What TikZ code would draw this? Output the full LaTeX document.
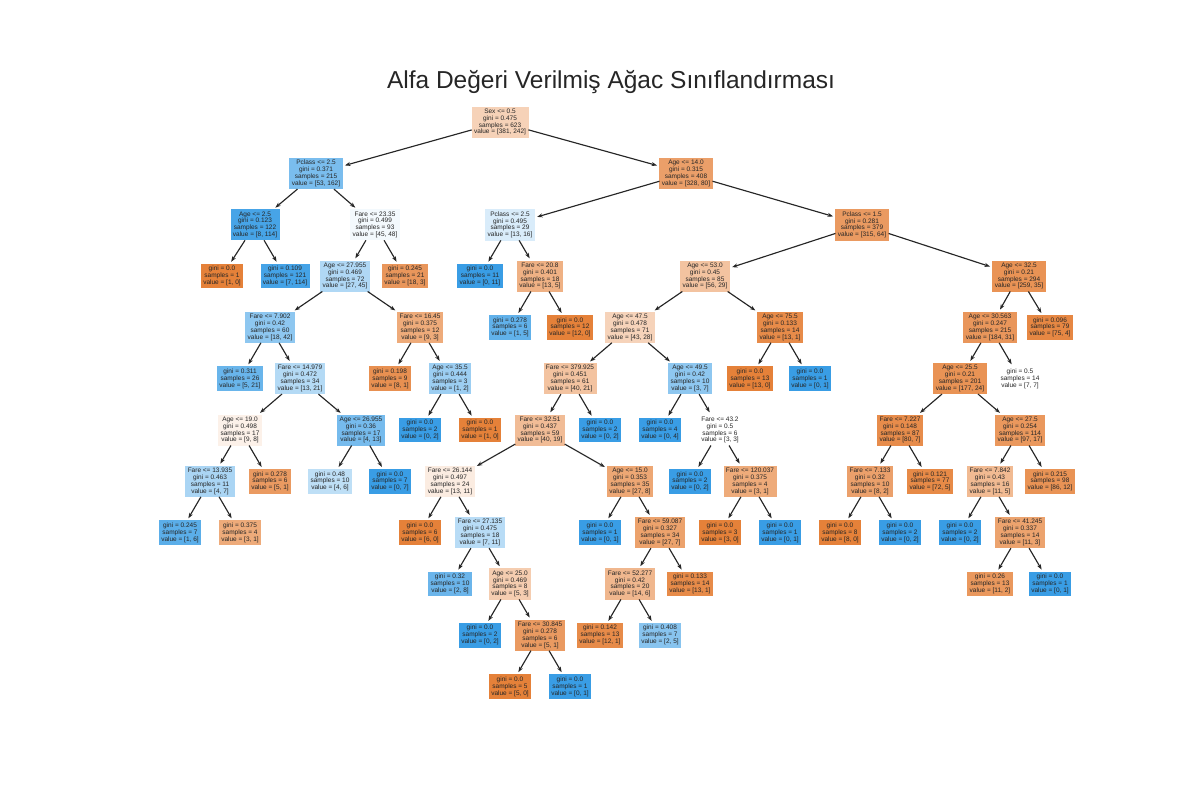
\documentclass[tikz,border=0pt]{standalone}
\usepackage{fontspec}
\setmainfont{Liberation Sans}
\usetikzlibrary{arrows.meta}
\definecolor{org}{RGB}{229,129,57}
\definecolor{blu}{RGB}{57,157,229}
\definecolor{yazi}{RGB}{38,38,38}

\begin{document}
\begin{tikzpicture}[x=1pt, y=-1pt, >={Stealth[length=5.5pt,width=4pt]},
    dug/.style={rectangle, align=center, inner xsep=2pt, inner ysep=1.8pt, line width=0.8pt, text=yazi, font=\fontsize{6.5}{6.9}\selectfont},
    kutu/.style 2 args={fill=#1!#2!white, draw=#1!#2!white},
    ok/.style={->, draw=yazi, line width=1.15pt, shorten >=2.5pt}]
    \useasboundingbox (0,0) rectangle (1200,800);

    % Tiêu đề
    \node[anchor=base, text=yazi, font=\fontsize{24.5}{29}\selectfont] (baslik) at (611,88.3) {Alfa Değeri Verilmiş Ağac Sınıflandırması};

    % Tầng 0
    \node[dug, kutu={org}{36}] (n0) at (500,122) {Sex <= 0.5\\gini = 0.475\\samples = 623\\value = [381, 242]};

    % Tầng 1
    \node[dug, kutu={blu}{67}] (n1) at (316,173.5) {Pclass <= 2.5\\gini = 0.371\\samples = 215\\value = [53, 162]};
    \node[dug, kutu={org}{76}] (n2) at (686,173.5) {Age <= 14.0\\gini = 0.315\\samples = 408\\value = [328, 80]};

    % Tầng 2
    \node[dug, kutu={blu}{93}] (n3) at (255,224.8) {Age <= 2.5\\gini = 0.123\\samples = 122\\value = [8, 114]};
    \node[dug, kutu={blu}{6}] (n4) at (375,224.8) {Fare <= 23.35\\gini = 0.499\\samples = 93\\value = [45, 48]};
    \node[dug, kutu={blu}{19}] (n5) at (510,224.8) {Pclass <= 2.5\\gini = 0.495\\samples = 29\\value = [13, 16]};
    \node[dug, kutu={org}{80}] (n6) at (862,224.8) {Pclass <= 1.5\\gini = 0.281\\samples = 379\\value = [315, 64]};

    % Tầng 3
    \node[dug, kutu={org}{100}] (n7) at (222,276) {gini = 0.0\\samples = 1\\value = [1, 0]};
    \node[dug, kutu={blu}{94}] (n8) at (285,276) {gini = 0.109\\samples = 121\\value = [7, 114]};
    \node[dug, kutu={blu}{40}] (n9) at (345,276) {Age <= 27.955\\gini = 0.469\\samples = 72\\value = [27, 45]};
    \node[dug, kutu={org}{83}] (n10) at (405,276) {gini = 0.245\\samples = 21\\value = [18, 3]};
    \node[dug, kutu={blu}{100}] (n11) at (480,276) {gini = 0.0\\samples = 11\\value = [0, 11]};
    \node[dug, kutu={org}{62}] (n12) at (540,276) {Fare <= 20.8\\gini = 0.401\\samples = 18\\value = [13, 5]};
    \node[dug, kutu={org}{48}] (n13) at (705,276) {Age <= 53.0\\gini = 0.45\\samples = 85\\value = [56, 29]};
    \node[dug, kutu={org}{86}] (n14) at (1019,276) {Age <= 32.5\\gini = 0.21\\samples = 294\\value = [259, 35]};

    % Tầng 4
    \node[dug, kutu={blu}{57}] (n15) at (270,327.3) {Fare <= 7.902\\gini = 0.42\\samples = 60\\value = [18, 42]};
    \node[dug, kutu={org}{67}] (n16) at (420,327.3) {Fare <= 16.45\\gini = 0.375\\samples = 12\\value = [9, 3]};
    \node[dug, kutu={blu}{80}] (n17) at (510,327.3) {gini = 0.278\\samples = 6\\value = [1, 5]};
    \node[dug, kutu={org}{100}] (n18) at (570,327.3) {gini = 0.0\\samples = 12\\value = [12, 0]};
    \node[dug, kutu={org}{35}] (n19) at (630,327.3) {Age <= 47.5\\gini = 0.478\\samples = 71\\value = [43, 28]};
    \node[dug, kutu={org}{92}] (n20) at (780,327.3) {Age <= 75.5\\gini = 0.133\\samples = 14\\value = [13, 1]};
    \node[dug, kutu={org}{83}] (n21) at (990,327.3) {Age <= 30.563\\gini = 0.247\\samples = 215\\value = [184, 31]};
    \node[dug, kutu={org}{95}] (n22) at (1050,327.3) {gini = 0.096\\samples = 79\\value = [75, 4]};

    % Tầng 5
    \node[dug, kutu={blu}{76}] (n23) at (240,378.6) {gini = 0.311\\samples = 26\\value = [5, 21]};
    \node[dug, kutu={blu}{38}] (n24) at (300,378.6) {Fare <= 14.979\\gini = 0.472\\samples = 34\\value = [13, 21]};
    \node[dug, kutu={org}{88}] (n25) at (390,378.6) {gini = 0.198\\samples = 9\\value = [8, 1]};
    \node[dug, kutu={blu}{50}] (n26) at (450,378.6) {Age <= 35.5\\gini = 0.444\\samples = 3\\value = [1, 2]};
    \node[dug, kutu={org}{48}] (n27) at (570,378.6) {Fare <= 379.925\\gini = 0.451\\samples = 61\\value = [40, 21]};
    \node[dug, kutu={blu}{57}] (n28) at (690,378.6) {Age <= 49.5\\gini = 0.42\\samples = 10\\value = [3, 7]};
    \node[dug, kutu={org}{100}] (n29) at (750,378.6) {gini = 0.0\\samples = 13\\value = [13, 0]};
    \node[dug, kutu={blu}{100}] (n30) at (810,378.6) {gini = 0.0\\samples = 1\\value = [0, 1]};
    \node[dug, kutu={org}{86}] (n31) at (960,378.6) {Age <= 25.5\\gini = 0.21\\samples = 201\\value = [177, 24]};
    \node[dug, kutu={org}{0}] (n32) at (1020,378.6) {gini = 0.5\\samples = 14\\value = [7, 7]};

    % Tầng 6
    \node[dug, kutu={org}{11}] (n33) at (240,430) {Age <= 19.0\\gini = 0.498\\samples = 17\\value = [9, 8]};
    \node[dug, kutu={blu}{69}] (n34) at (361,430) {Age <= 26.955\\gini = 0.36\\samples = 17\\value = [4, 13]};
    \node[dug, kutu={blu}{100}] (n35) at (420,430) {gini = 0.0\\samples = 2\\value = [0, 2]};
    \node[dug, kutu={org}{100}] (n36) at (480,430) {gini = 0.0\\samples = 1\\value = [1, 0]};
    \node[dug, kutu={org}{53}] (n37) at (540,430) {Fare <= 32.51\\gini = 0.437\\samples = 59\\value = [40, 19]};
    \node[dug, kutu={blu}{100}] (n38) at (600,430) {gini = 0.0\\samples = 2\\value = [0, 2]};
    \node[dug, kutu={blu}{100}] (n39) at (660,430) {gini = 0.0\\samples = 4\\value = [0, 4]};
    \node[dug, kutu={org}{0}] (n40) at (720,430) {Fare <= 43.2\\gini = 0.5\\samples = 6\\value = [3, 3]};
    \node[dug, kutu={org}{91}] (n41) at (900,430) {Fare <= 7.227\\gini = 0.148\\samples = 87\\value = [80, 7]};
    \node[dug, kutu={org}{82}] (n42) at (1020,430) {Age <= 27.5\\gini = 0.254\\samples = 114\\value = [97, 17]};

    % Tầng 7
    \node[dug, kutu={blu}{43}] (n43) at (210,481.3) {Fare <= 13.935\\gini = 0.463\\samples = 11\\value = [4, 7]};
    \node[dug, kutu={org}{80}] (n44) at (270,481.3) {gini = 0.278\\samples = 6\\value = [5, 1]};
    \node[dug, kutu={blu}{33}] (n45) at (330,481.3) {gini = 0.48\\samples = 10\\value = [4, 6]};
    \node[dug, kutu={blu}{100}] (n46) at (390,481.3) {gini = 0.0\\samples = 7\\value = [0, 7]};
    \node[dug, kutu={org}{15}] (n47) at (450,481.3) {Fare <= 26.144\\gini = 0.497\\samples = 24\\value = [13, 11]};
    \node[dug, kutu={org}{70}] (n48) at (630,481.3) {Age <= 15.0\\gini = 0.353\\samples = 35\\value = [27, 8]};
    \node[dug, kutu={blu}{100}] (n49) at (690,481.3) {gini = 0.0\\samples = 2\\value = [0, 2]};
    \node[dug, kutu={org}{67}] (n50) at (750,481.3) {Fare <= 120.037\\gini = 0.375\\samples = 4\\value = [3, 1]};
    \node[dug, kutu={org}{75}] (n51) at (870,481.3) {Fare <= 7.133\\gini = 0.32\\samples = 10\\value = [8, 2]};
    \node[dug, kutu={org}{93}] (n52) at (930,481.3) {gini = 0.121\\samples = 77\\value = [72, 5]};
    \node[dug, kutu={org}{55}] (n53) at (990,481.3) {Fare <= 7.842\\gini = 0.43\\samples = 16\\value = [11, 5]};
    \node[dug, kutu={org}{86}] (n54) at (1050,481.3) {gini = 0.215\\samples = 98\\value = [86, 12]};

    % Tầng 8
    \node[dug, kutu={blu}{83}] (n55) at (180,532.6) {gini = 0.245\\samples = 7\\value = [1, 6]};
    \node[dug, kutu={org}{67}] (n56) at (240,532.6) {gini = 0.375\\samples = 4\\value = [3, 1]};
    \node[dug, kutu={org}{100}] (n57) at (420,532.6) {gini = 0.0\\samples = 6\\value = [6, 0]};
    \node[dug, kutu={blu}{36}] (n58) at (480,532.6) {Fare <= 27.135\\gini = 0.475\\samples = 18\\value = [7, 11]};
    \node[dug, kutu={blu}{100}] (n59) at (600,532.6) {gini = 0.0\\samples = 1\\value = [0, 1]};
    \node[dug, kutu={org}{74}] (n60) at (660,532.6) {Fare <= 59.087\\gini = 0.327\\samples = 34\\value = [27, 7]};
    \node[dug, kutu={org}{100}] (n61) at (720,532.6) {gini = 0.0\\samples = 3\\value = [3, 0]};
    \node[dug, kutu={blu}{100}] (n62) at (780,532.6) {gini = 0.0\\samples = 1\\value = [0, 1]};
    \node[dug, kutu={org}{100}] (n63) at (840,532.6) {gini = 0.0\\samples = 8\\value = [8, 0]};
    \node[dug, kutu={blu}{100}] (n64) at (900,532.6) {gini = 0.0\\samples = 2\\value = [0, 2]};
    \node[dug, kutu={blu}{100}] (n65) at (960,532.6) {gini = 0.0\\samples = 2\\value = [0, 2]};
    \node[dug, kutu={org}{73}] (n66) at (1020,532.6) {Fare <= 41.245\\gini = 0.337\\samples = 14\\value = [11, 3]};

    % Tầng 9
    \node[dug, kutu={blu}{75}] (n67) at (450,583.9) {gini = 0.32\\samples = 10\\value = [2, 8]};
    \node[dug, kutu={org}{40}] (n68) at (510,583.9) {Age <= 25.0\\gini = 0.469\\samples = 8\\value = [5, 3]};
    \node[dug, kutu={org}{57}] (n69) at (630,583.9) {Fare <= 52.277\\gini = 0.42\\samples = 20\\value = [14, 6]};
    \node[dug, kutu={org}{92}] (n70) at (690,583.9) {gini = 0.133\\samples = 14\\value = [13, 1]};
    \node[dug, kutu={org}{82}] (n71) at (990,583.9) {gini = 0.26\\samples = 13\\value = [11, 2]};
    \node[dug, kutu={blu}{100}] (n72) at (1050,583.9) {gini = 0.0\\samples = 1\\value = [0, 1]};

    % Tầng 10
    \node[dug, kutu={blu}{100}] (n73) at (480,635.2) {gini = 0.0\\samples = 2\\value = [0, 2]};
    \node[dug, kutu={org}{80}] (n74) at (540,635.2) {Fare <= 30.845\\gini = 0.278\\samples = 6\\value = [5, 1]};
    \node[dug, kutu={org}{92}] (n75) at (600,635.2) {gini = 0.142\\samples = 13\\value = [12, 1]};
    \node[dug, kutu={blu}{60}] (n76) at (660,635.2) {gini = 0.408\\samples = 7\\value = [2, 5]};

    % Tầng 11
    \node[dug, kutu={org}{100}] (n77) at (510,686.5) {gini = 0.0\\samples = 5\\value = [5, 0]};
    \node[dug, kutu={blu}{100}] (n78) at (570,686.5) {gini = 0.0\\samples = 1\\value = [0, 1]};

    % Mũi tên
    \draw[ok] (n0) -- (n1);   \draw[ok] (n0) -- (n2);
    \draw[ok] (n1) -- (n3);   \draw[ok] (n1) -- (n4);
    \draw[ok] (n2) -- (n5);   \draw[ok] (n2) -- (n6);
    \draw[ok] (n3) -- (n7);   \draw[ok] (n3) -- (n8);
    \draw[ok] (n4) -- (n9);   \draw[ok] (n4) -- (n10);
    \draw[ok] (n5) -- (n11);  \draw[ok] (n5) -- (n12);
    \draw[ok] (n6) -- (n13);  \draw[ok] (n6) -- (n14);
    \draw[ok] (n9) -- (n15);  \draw[ok] (n9) -- (n16);
    \draw[ok] (n12) -- (n17); \draw[ok] (n12) -- (n18);
    \draw[ok] (n13) -- (n19); \draw[ok] (n13) -- (n20);
    \draw[ok] (n14) -- (n21); \draw[ok] (n14) -- (n22);
    \draw[ok] (n15) -- (n23); \draw[ok] (n15) -- (n24);
    \draw[ok] (n16) -- (n25); \draw[ok] (n16) -- (n26);
    \draw[ok] (n19) -- (n27); \draw[ok] (n19) -- (n28);
    \draw[ok] (n20) -- (n29); \draw[ok] (n20) -- (n30);
    \draw[ok] (n21) -- (n31); \draw[ok] (n21) -- (n32);
    \draw[ok] (n24) -- (n33); \draw[ok] (n24) -- (n34);
    \draw[ok] (n26) -- (n35); \draw[ok] (n26) -- (n36);
    \draw[ok] (n27) -- (n37); \draw[ok] (n27) -- (n38);
    \draw[ok] (n28) -- (n39); \draw[ok] (n28) -- (n40);
    \draw[ok] (n31) -- (n41); \draw[ok] (n31) -- (n42);
    \draw[ok] (n33) -- (n43); \draw[ok] (n33) -- (n44);
    \draw[ok] (n34) -- (n45); \draw[ok] (n34) -- (n46);
    \draw[ok] (n37) -- (n47); \draw[ok] (n37) -- (n48);
    \draw[ok] (n40) -- (n49); \draw[ok] (n40) -- (n50);
    \draw[ok] (n41) -- (n51); \draw[ok] (n41) -- (n52);
    \draw[ok] (n42) -- (n53); \draw[ok] (n42) -- (n54);
    \draw[ok] (n43) -- (n55); \draw[ok] (n43) -- (n56);
    \draw[ok] (n47) -- (n57); \draw[ok] (n47) -- (n58);
    \draw[ok] (n48) -- (n59); \draw[ok] (n48) -- (n60);
    \draw[ok] (n50) -- (n61); \draw[ok] (n50) -- (n62);
    \draw[ok] (n51) -- (n63); \draw[ok] (n51) -- (n64);
    \draw[ok] (n53) -- (n65); \draw[ok] (n53) -- (n66);
    \draw[ok] (n58) -- (n67); \draw[ok] (n58) -- (n68);
    \draw[ok] (n60) -- (n69); \draw[ok] (n60) -- (n70);
    \draw[ok] (n66) -- (n71); \draw[ok] (n66) -- (n72);
    \draw[ok] (n68) -- (n73); \draw[ok] (n68) -- (n74);
    \draw[ok] (n69) -- (n75); \draw[ok] (n69) -- (n76);
    \draw[ok] (n74) -- (n77); \draw[ok] (n74) -- (n78);
\end{tikzpicture}
\end{document}
